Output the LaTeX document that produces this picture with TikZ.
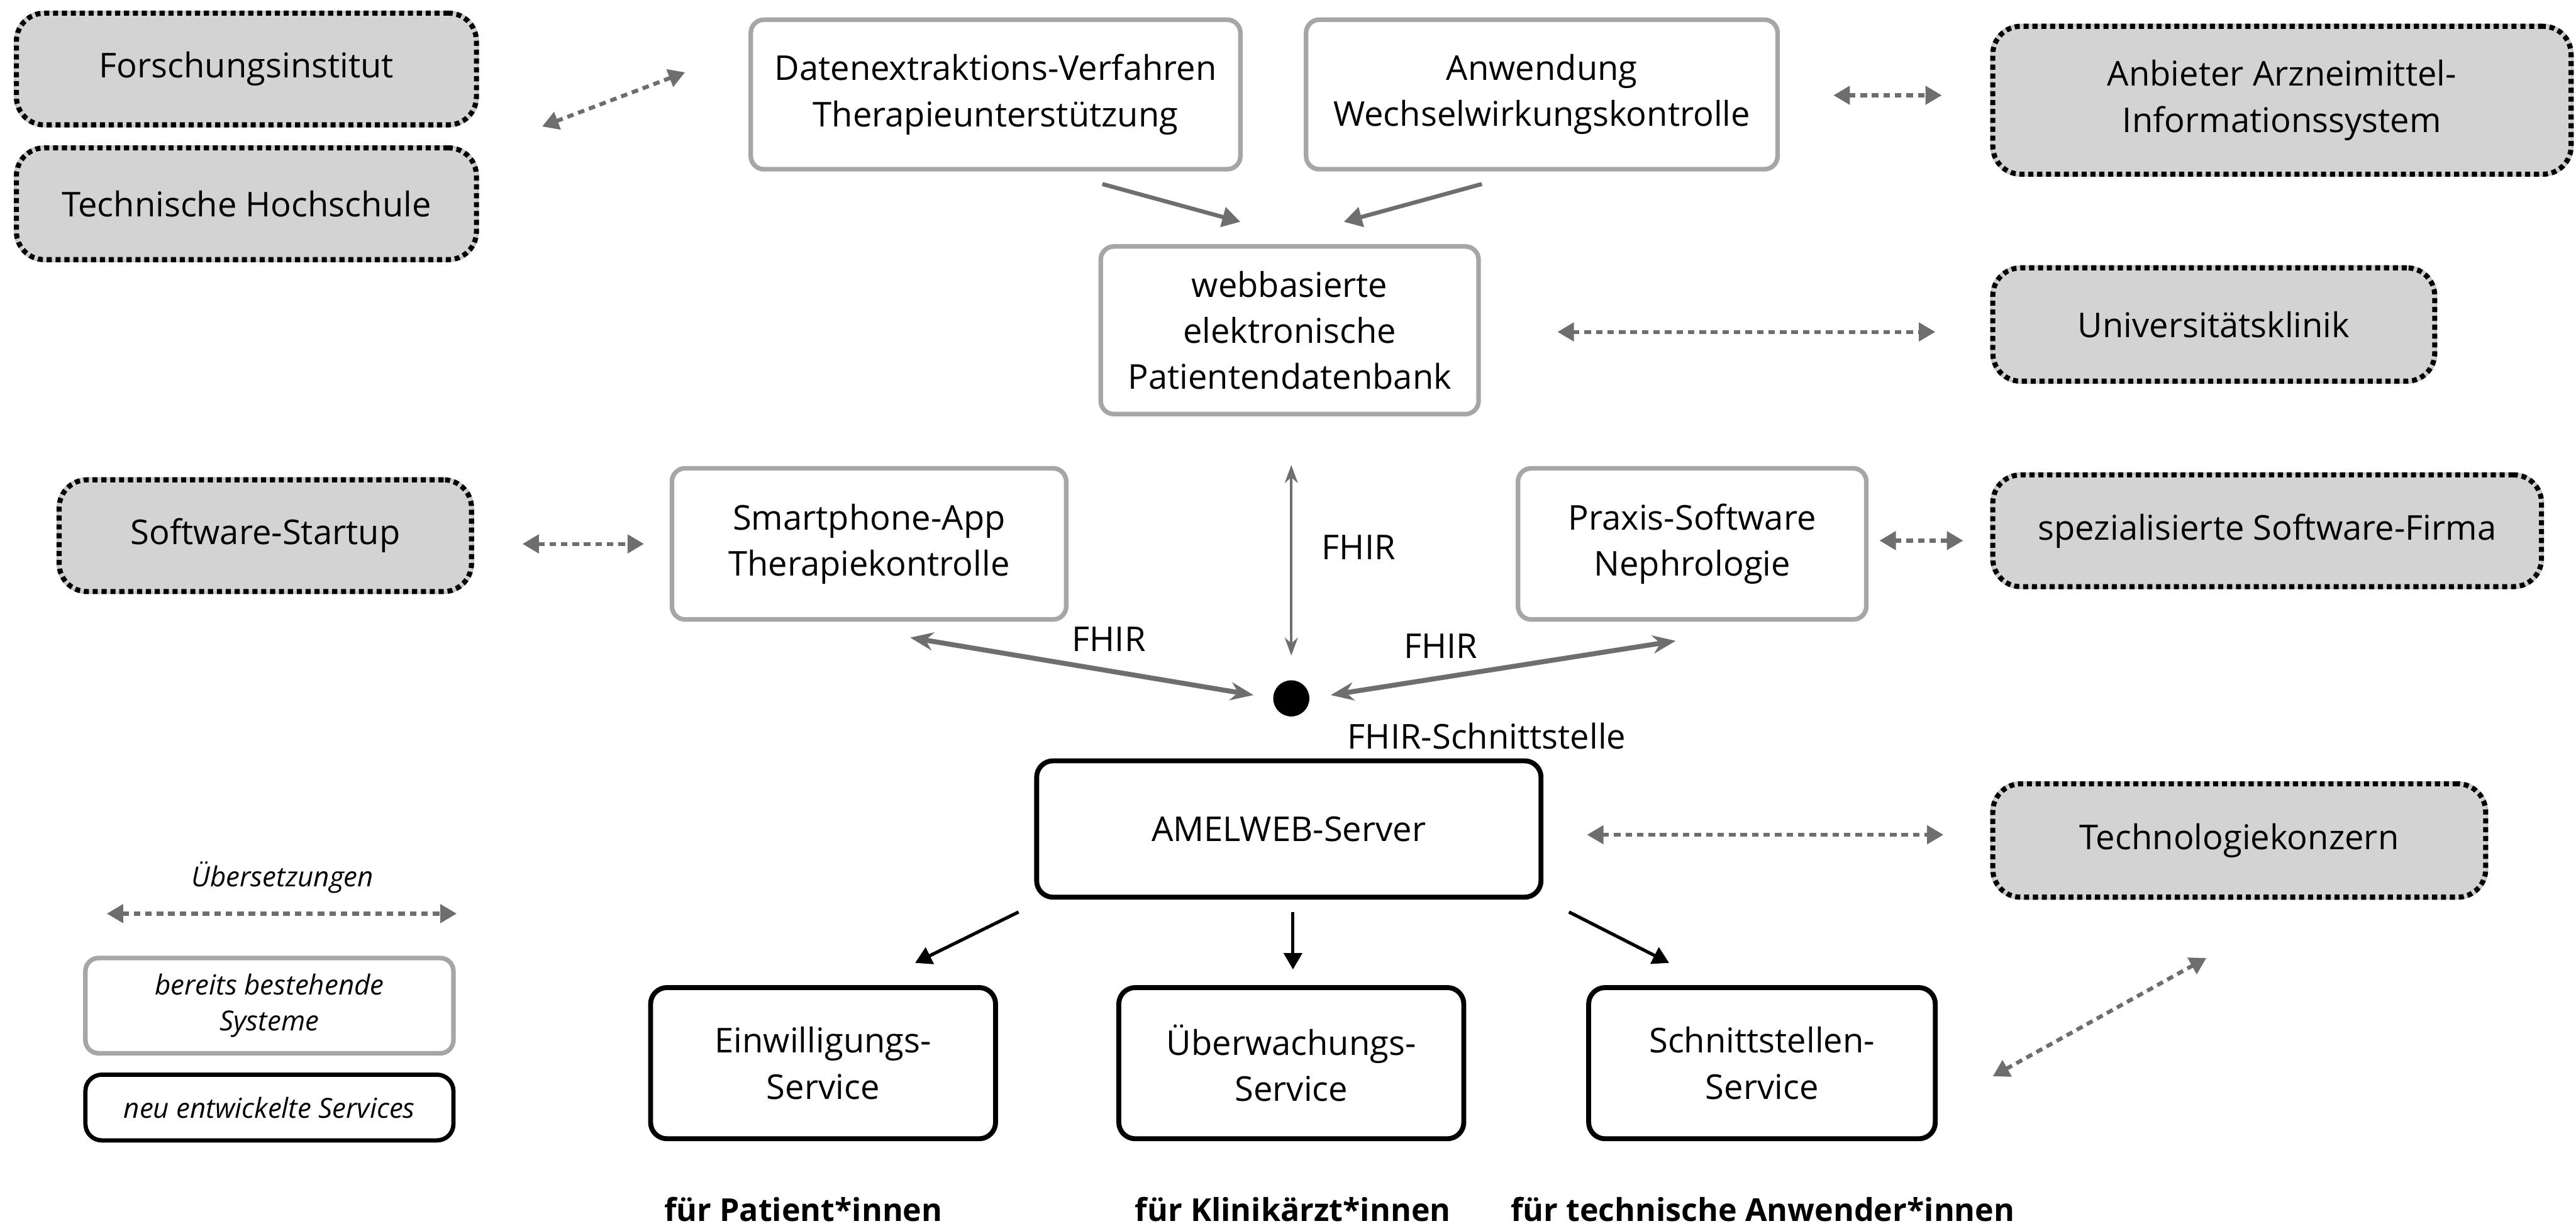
\documentclass[tikz,border=0pt]{standalone}
\usepackage{fontspec}
\setmainfont{Open Sans}
\usetikzlibrary{arrows.meta}
\definecolor{linkgray}{HTML}{6E6E6E}
\definecolor{oldgray}{HTML}{A6A6A6}
\definecolor{extfill}{HTML}{D3D3D3}
\begin{document}
\begin{tikzpicture}[x=1pt,y=-1pt,
  txt/.style={font=\fontsize{20.8}{28}\selectfont, align=center, inner sep=0pt},
  partner/.style={txt, rounded corners=17pt, fill=extfill, draw=black,
    line width=3.1pt, dash pattern=on 3.1pt off 2.3pt,
    preaction={draw=extfill!85!gray, solid, line width=3.1pt}},
  legacy/.style={txt, rounded corners=8pt, fill=white, draw=oldgray, line width=2.8pt},
  service/.style={txt, rounded corners=10pt, fill=white, draw=black, line width=3pt},
  legendtxt/.style={font=\fontsize{16.8}{22}\selectfont\itshape},
  target/.style={font=\fontsize{19.2}{22}\selectfont\bfseries, inner sep=0pt},
  transl/.style={draw=linkgray, line width=2.4pt, dash pattern=on 4pt off 3pt,
    {Triangle[length=10pt,width=11pt]}-{Triangle[length=10pt,width=11pt]}},
  feed/.style={draw=linkgray, line width=2.5pt, -{Triangle[length=11pt,width=12pt]}},
  fhir/.style={draw=linkgray, line width=3pt,
    {Stealth[length=14pt,width=11pt]}-{Stealth[length=14pt,width=11pt]}},
  fhirv/.style={draw=linkgray, line width=1.6pt,
    {Stealth[length=11pt,width=8pt]}-{Stealth[length=11pt,width=8pt]}},
  deliver/.style={draw=black, line width=2pt, -{Triangle[length=10pt,width=11pt]}}
]
\useasboundingbox (0,0) rectangle (1568,746);

% external partners
\node[partner, minimum width=280pt, minimum height=68pt] (forsch) at (150,42) {Forschungsinstitut};
\node[partner, minimum width=280pt, minimum height=68pt] (th) at (150,124) {Technische Hochschule};
\node[partner, minimum width=352pt, minimum height=90pt] (anb) at (1389,61) {Anbieter Arzneimittel-\\Informationssystem};
\node[partner, minimum width=269pt, minimum height=69pt] (uni) at (1347.5,197.5) {Universitätsklinik};
\node[partner, minimum width=251pt, minimum height=68pt] (start) at (161.5,326) {Software-Startup};
\node[partner, minimum width=334pt, minimum height=68pt] (firma) at (1380,323) {spezialisierte Software-Firma};
\node[partner, minimum width=300pt, minimum height=69pt] (konz) at (1363,511.5) {Technologiekonzern};

% existing systems
\node[legacy, minimum width=298pt, minimum height=91pt] (extr) at (606,57.5) {Datenextraktions-Verfahren\\Therapieunterstützung};
\node[legacy, minimum width=287pt, minimum height=91pt] (wwk) at (938.5,57.5) {Anwendung\\Wechselwirkungskontrolle};
\node[legacy, minimum width=230pt, minimum height=102pt] (db) at (785,201) {webbasierte\\elektronische\\Patientendatenbank};
\node[legacy, minimum width=240pt, minimum height=92pt] (app) at (529,331) {Smartphone-App\\Therapiekontrolle};
\node[legacy, minimum width=212pt, minimum height=92pt] (praxis) at (1030,331) {Praxis-Software\\Nephrologie};

% new services
\node[service, minimum width=307pt, minimum height=83pt] (server) at (784.5,504.5) {AMELWEB-Server};
\node[service, minimum width=210pt, minimum height=92pt] (einw) at (501,647) {Einwilligungs-\\Service};
\node[service, minimum width=210pt, minimum height=92pt] (ueberw) at (786,647) {Überwachungs-\\Service};
\node[service, minimum width=211pt, minimum height=92pt] (schn) at (1072.5,647) {Schnittstellen-\\Service};

% FHIR hub
\node[circle, fill=black, minimum size=22pt, inner sep=0pt] (hub) at (786,425) {};
\node[txt] (hublbl) at (905,448) {FHIR-Schnittstelle};
\node[txt] (fhirdb) at (827,333) {FHIR};
\node[txt] (fhirapp) at (675,389) {FHIR};
\node[txt] (fhirpx) at (877,393) {FHIR};

% target groups
\node[target] (tp) at (489,736) {für Patient*innen};
\node[target] (tk) at (787,736) {für Klinikärzt*innen};
\node[target] (tt) at (1073,736) {für technische Anwender*innen};

% legend
\node[legendtxt] (lgtrans) at (172,534) {Übersetzungen};
\node[legacy, legendtxt, minimum width=224pt, minimum height=58pt] (lgold) at (164,612) {bereits bestehende\\Systeme};
\node[service, legendtxt, line width=2.6pt, minimum width=224pt, minimum height=40pt] (lgnew) at (164,674) {neu entwickelte Services};

% connector end points
\coordinate (lgA) at (65,556);      \coordinate (lgB) at (278,556);
\coordinate (t1a) at (330,77);      \coordinate (t1b) at (417,44);
\coordinate (t2a) at (1116,58);     \coordinate (t2b) at (1182,58);
\coordinate (t3a) at (948,202);     \coordinate (t3b) at (1178,202);
\coordinate (t4a) at (318,331);     \coordinate (t4b) at (392,331);
\coordinate (t5a) at (1144,329);    \coordinate (t5b) at (1195,329);
\coordinate (t6a) at (966,508);     \coordinate (t6b) at (1183,508);
\coordinate (t7a) at (1213,655);    \coordinate (t7b) at (1343,583);
\coordinate (f1a) at (671,112);     \coordinate (f1b) at (755,135);
\coordinate (f2a) at (902,112);     \coordinate (f2b) at (818,135);
\coordinate (vA) at (786,283);      \coordinate (vB) at (786,399);
\coordinate (hL1) at (554,388);     \coordinate (hL2) at (763,423);
\coordinate (hR1) at (1020,390);    \coordinate (hR2) at (810,423);
\coordinate (s1a) at (620,555);     \coordinate (s1b) at (557,586);
\coordinate (s2a) at (787,555);     \coordinate (s2b) at (787,590);
\coordinate (s3a) at (955,555);     \coordinate (s3b) at (1016,586);

% translations
\draw[transl] (lgA) -- (lgB);
\draw[transl] (t1a) -- (t1b);
\draw[transl] (t2a) -- (t2b);
\draw[transl] (t3a) -- (t3b);
\draw[transl] (t4a) -- (t4b);
\draw[transl] (t5a) -- (t5b);
\draw[transl] (t6a) -- (t6b);
\draw[transl] (t7a) -- (t7b);

% data feeding into the patient database
\draw[feed] (f1a) -- (f1b);
\draw[feed] (f2a) -- (f2b);

% FHIR links
\draw[fhirv] (vA) -- (vB);
\draw[fhir] (hL1) -- (hL2);
\draw[fhir] (hR1) -- (hR2);

% server to services
\draw[deliver] (s1a) -- (s1b);
\draw[deliver] (s2a) -- (s2b);
\draw[deliver] (s3a) -- (s3b);
\end{tikzpicture}
\end{document}
